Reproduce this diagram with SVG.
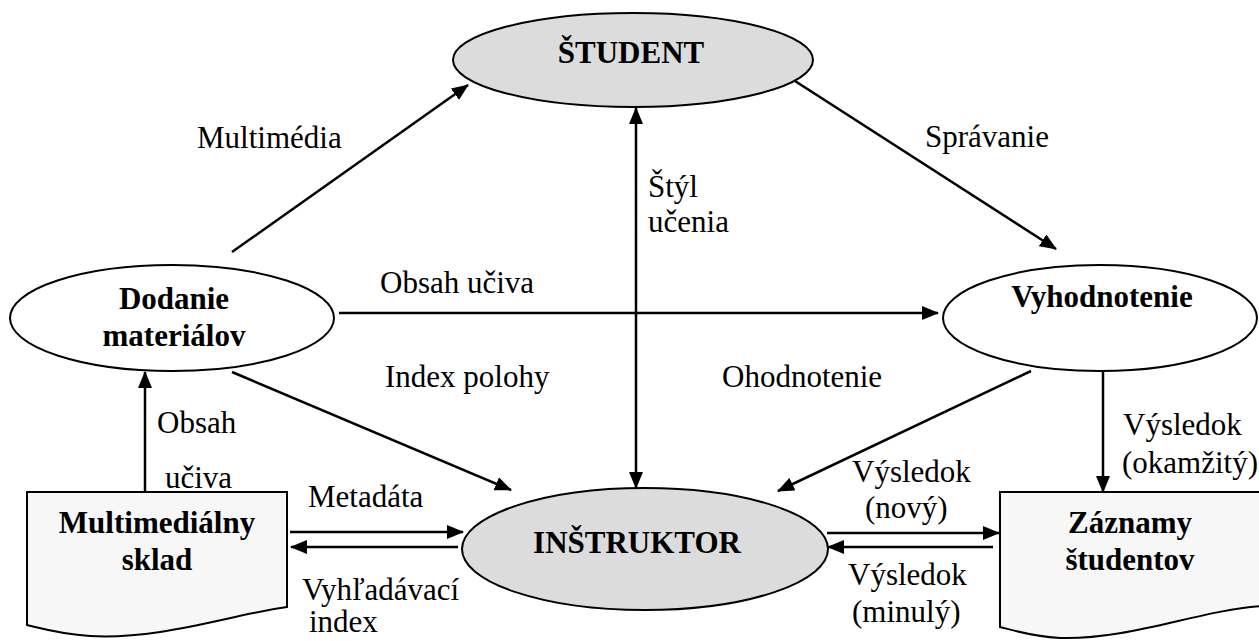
<svg xmlns="http://www.w3.org/2000/svg" width="1259" height="641" viewBox="0 0 1259 641">
  <style>
    .node { stroke: #000; stroke-width: 2; }
    .grey { fill: #dcdcdc; }
    .white { fill: #fff; }
    .doc { fill: #f7f7f7; }
    text { font-family: 'Liberation Serif', 'DejaVu Serif', serif; fill: #000; }
    .title { font-weight: bold; font-size: 31px; text-anchor: middle; }
    .lbl { font-size: 31px; }
    .edge { stroke: #000; stroke-width: 2.5; fill: none; }
  </style>
  <defs>
    <marker id="arrow" markerUnits="userSpaceOnUse" markerWidth="18" markerHeight="14" refX="16" refY="7" orient="auto-start-reverse">
      <path d="M0,0 L17,7 L0,14 Z" fill="#000"/>
    </marker>
  </defs>

  <!-- Connectors -->
  <g id="connectors">
    <line class="edge" x1="232" y1="252" x2="468" y2="85" marker-end="url(#arrow)"/>
    <line class="edge" x1="795" y1="81" x2="1056" y2="249" marker-end="url(#arrow)"/>
    <line class="edge" x1="636" y1="108" x2="636" y2="488" marker-start="url(#arrow)" marker-end="url(#arrow)"/>
    <line class="edge" x1="339" y1="313" x2="938" y2="313" marker-end="url(#arrow)"/>
    <line class="edge" x1="232" y1="372" x2="511" y2="490" marker-end="url(#arrow)"/>
    <line class="edge" x1="1031" y1="371" x2="778" y2="491" marker-end="url(#arrow)"/>
    <line class="edge" x1="145" y1="493" x2="145" y2="372" marker-end="url(#arrow)"/>
    <line class="edge" x1="290" y1="532" x2="463" y2="532" marker-end="url(#arrow)"/>
    <line class="edge" x1="458" y1="547" x2="291" y2="547" marker-end="url(#arrow)"/>
    <line class="edge" x1="827" y1="533" x2="999" y2="533" marker-end="url(#arrow)"/>
    <line class="edge" x1="993" y1="547" x2="828" y2="547" marker-end="url(#arrow)"/>
    <line class="edge" x1="1103" y1="372" x2="1103" y2="492" marker-end="url(#arrow)"/>

    <text class="lbl" x="197" y="148">Multimédia</text>
    <text class="lbl" x="925" y="147">Správanie</text>
    <text class="lbl" x="648" y="197">Štýl</text>
    <text class="lbl" x="648" y="232">učenia</text>
    <text class="lbl" x="380" y="293">Obsah učiva</text>
    <text class="lbl" x="385" y="387">Index polohy</text>
    <text class="lbl" x="722" y="387">Ohodnotenie</text>
    <text class="lbl" x="157" y="433">Obsah</text>
    <text class="lbl" x="165" y="488">učiva</text>
    <text class="lbl" x="308" y="507">Metadáta</text>
    <text class="lbl" x="302" y="600">Vyhľadávací</text>
    <text class="lbl" x="309" y="632">index</text>
    <text class="lbl" x="852" y="482">Výsledok</text>
    <text class="lbl" x="865" y="518">(nový)</text>
    <text class="lbl" x="848" y="585">Výsledok</text>
    <text class="lbl" x="852" y="622">(minulý)</text>
    <text class="lbl" x="1123" y="435">Výsledok</text>
    <text class="lbl" x="1122" y="473">(okamžitý)</text>
  </g>

  <!-- Nodes -->
  <g id="student">
    <ellipse class="node grey" cx="633" cy="60" rx="180" ry="47"/>
    <text class="title" x="631" y="63">ŠTUDENT</text>
  </g>
  <g id="dodanie">
    <ellipse class="node white" cx="172" cy="318" rx="162" ry="53"/>
    <text class="title" x="174" y="309">Dodanie</text>
    <text class="title" x="174" y="346">materiálov</text>
  </g>
  <g id="vyhodnotenie">
    <ellipse class="node white" cx="1100" cy="318" rx="157" ry="53"/>
    <text class="title" x="1102" y="307">Vyhodnotenie</text>
  </g>
  <g id="instruktor">
    <ellipse class="node grey" cx="645" cy="549" rx="183" ry="61"/>
    <text class="title" x="637" y="553">INŠTRUKTOR</text>
  </g>
  <g id="sklad">
    <path class="node doc" d="M27,492 L287,492 L287,607 C230,615 160,640 90,636 C60,634 40,628 27,625 Z"/>
    <text class="title" x="157" y="533">Multimediálny</text>
    <text class="title" x="157" y="570">sklad</text>
  </g>
  <g id="zaznamy">
    <path class="node doc" d="M1000,492 L1262,492 L1262,606 C1200,610 1130,640 1060,638 C1030,636 1012,630 1000,627 Z"/>
    <text class="title" x="1130" y="533">Záznamy</text>
    <text class="title" x="1130" y="570">študentov</text>
  </g>
</svg>
